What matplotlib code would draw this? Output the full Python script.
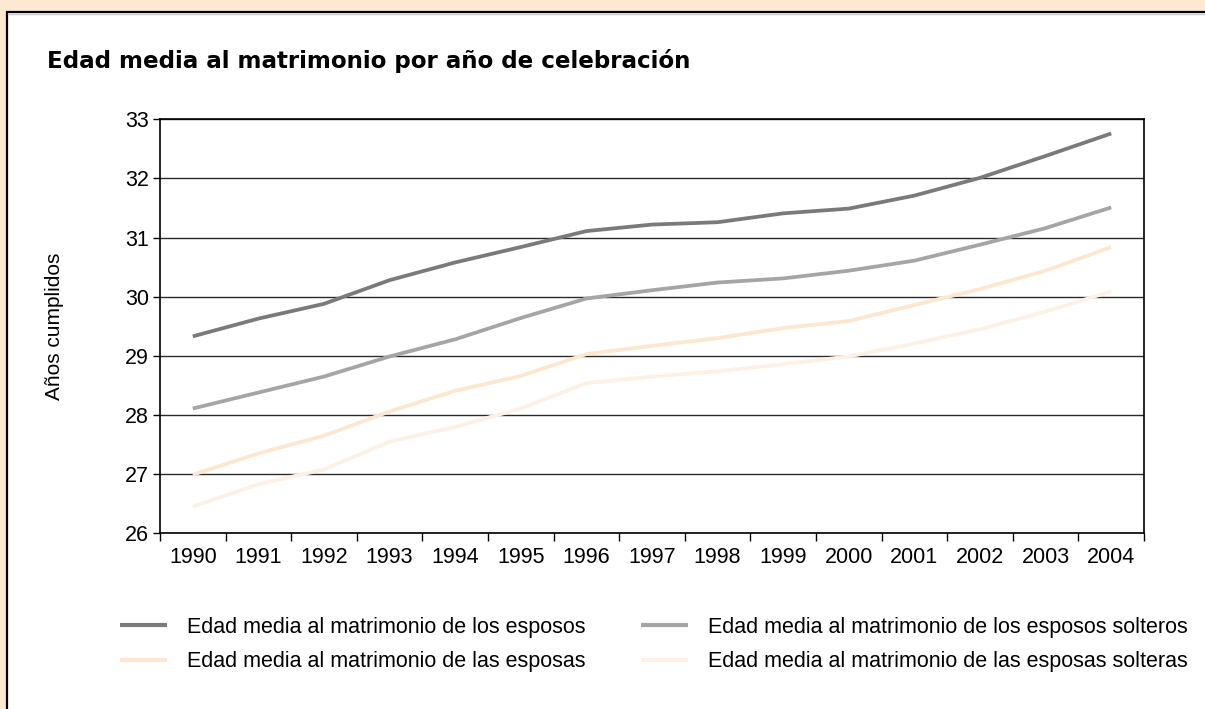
import matplotlib
matplotlib.use("Agg")
import matplotlib.pyplot as plt
from matplotlib.patches import Rectangle
from matplotlib.lines import Line2D

years = ["1990", "1991", "1992", "1993", "1994", "1995", "1996", "1997",
         "1998", "1999", "2000", "2001", "2002", "2003", "2004"]
esposos = [29.33, 29.63, 29.88, 30.28, 30.58, 30.84, 31.11, 31.22,
           31.26, 31.41, 31.49, 31.71, 32.01, 32.38, 32.76]
esposos_solteros = [28.11, 28.38, 28.65, 28.99, 29.28, 29.64, 29.97, 30.11,
                    30.24, 30.31, 30.44, 30.61, 30.88, 31.16, 31.51]
esposas = [26.99, 27.35, 27.65, 28.06, 28.41, 28.66, 29.03, 29.17,
           29.30, 29.47, 29.59, 29.86, 30.13, 30.44, 30.84]
esposas_solteras = [26.45, 26.83, 27.08, 27.55, 27.80, 28.11, 28.54, 28.65,
                    28.74, 28.86, 28.99, 29.21, 29.45, 29.75, 30.09]
labels = ["Edad media al matrimonio de los esposos",
          "Edad media al matrimonio de los esposos solteros",
          "Edad media al matrimonio de las esposas",
          "Edad media al matrimonio de las esposas solteras"]
colors = ["#7a7a7a", "#a5a5a5", "#fde7d1", "#fdf1e6"]
yticks = [26, 27, 28, 29, 30, 31, 32, 33]
title = "Edad media al matrimonio por año de celebración"
ylabel = "Años cumplidos"

W, H = 1205, 709
fig = plt.figure(figsize=(W / 100, H / 100), dpi=100)
fig.patch.set_facecolor("#fde9d2")

# white panel with black border (top and left visible)
fig.patches.append(Rectangle((7 / W, -0.1), 1.2, (H - 12) / H + 0.1,
                             transform=fig.transFigure, facecolor="white",
                             edgecolor="black", linewidth=1.6, zorder=-5))
fig.lines.append(Line2D([8 / W, 1], [1 - 14 / H, 1 - 14 / H], transform=fig.transFigure,
                        color="#cccccc", linewidth=1.0, zorder=-4))

ax = fig.add_axes([160 / W, 1 - 533.3 / H, (1144 - 160) / W, (533.3 - 119.3) / H])
ax.set_zorder(2)
ax.set_facecolor("white")
x = list(range(len(years)))
series = [esposos, esposos_solteros, esposas, esposas_solteras]
handles = []
for s, c, lab in zip(series, colors, labels):
    h, = ax.plot(x, s, color=c, linewidth=2.7, solid_capstyle="butt", zorder=3, label=lab)
    handles.append(h)

ax.set_xlim(-0.5, len(years) - 0.5)
ax.set_ylim(26, 33)
ax.set_yticks(yticks)
ax.set_yticklabels([str(v) for v in yticks], fontfamily="Liberation Sans", fontsize=15.5)
ax.yaxis.grid(True, color="#2a2a2a", linewidth=1.0, zorder=1)
ax.set_axisbelow(True)
ax.set_xticks([i - 0.5 for i in range(len(years) + 1)])
ax.set_xticklabels([])
ax.set_xticks(x, minor=True)
ax.set_xticklabels(years, minor=True, fontfamily="Liberation Sans", fontsize=15.5)
ax.tick_params(axis="x", which="major", length=6, width=1.0, direction="out", color="black")
ax.tick_params(axis="x", which="minor", length=0, pad=10)
ax.tick_params(axis="y", length=5, width=1.0, direction="out", pad=3, color="black")
for sp in ax.spines.values():
    sp.set_color("black")
    sp.set_linewidth(1.2)

fig.text(55 / W, 1 - 326 / H, ylabel, rotation=90, ha="center", va="center",
         fontfamily="Liberation Sans", fontsize=15)

t = fig.text(47 / W, 1 - 61 / H, title, ha="left", va="center",
             fontfamily="DejaVu Sans", fontweight="bold", fontsize=15)

# fit title width to ~646 px
fig.canvas.draw()
r = fig.canvas.get_renderer()
bb = t.get_window_extent(r)
t.set_fontsize(15 * 646 / bb.width)

leg_fs = 15.5
px = leg_fs * 100 / 72
order = [0, 2, 1, 3]
leg = fig.legend([handles[i] for i in order], [labels[i] for i in order],
                 ncol=2, loc="upper left", bbox_to_anchor=(120 / W, 1 - 617 / H),
                 frameon=False, prop={"family": "Liberation Sans", "size": leg_fs},
                 handlelength=47 / px, handletextpad=20 / px,
                 columnspacing=55 / px, labelspacing=0.62, borderpad=0,
                 borderaxespad=0)
for lh in leg.get_lines():
    lh.set_linewidth(3.0)

fig.savefig("out.png", dpi=100, facecolor=fig.get_facecolor())
